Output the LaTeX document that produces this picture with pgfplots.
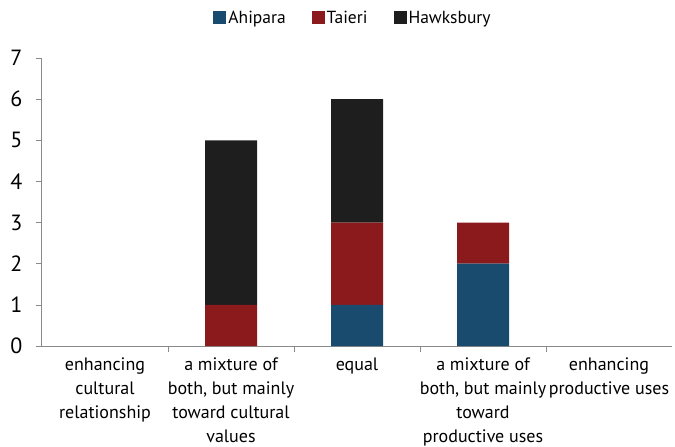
\documentclass[border=0pt]{standalone}
\usepackage{pgfplots}
\pgfplotsset{compat=1.18}
\usepackage{fontspec}
\setmainfont{PT Sans}
\definecolor{cAhi}{HTML}{184B6E}
\definecolor{cTai}{HTML}{8A1A1C}
\definecolor{cHaw}{HTML}{1E1E1E}
\definecolor{axc}{HTML}{8A8A8A}
\begin{document}
\begin{tikzpicture}
\begin{axis}[
  scale only axis,
  width=630pt, height=288pt,
  ybar stacked,
  bar width=52pt,
  xmin=-0.5, xmax=4.5,
  ymin=0, ymax=7,
  ytick={0,...,7},
  xtick={0,1,2,3,4},
  xticklabels={{enhancing\\cultural\\relationship},
    {a mixture of\\both, but mainly\\toward cultural\\values},
    {equal},
    {a mixture of\\both, but mainly\\toward\\productive uses},
    {enhancing\\productive uses}},
  xticklabel style={align=center, font=\fontsize{18}{24}\selectfont, yshift=-2pt},
  yticklabel style={font=\fontsize{22}{24}\selectfont, xshift=-10pt},
  major x tick style={draw=none},
  minor xtick={0.5,1.5,2.5,3.5},
  minor tick length=6pt,
  major tick length=6pt,
  tick align=outside,
  tick style={axc, line width=0.6pt},
  axis x line*=bottom,
  axis y line*=left,
  axis line style={axc, line width=1pt, -},
  /pgf/number format/assume math mode=true,
  legend columns=3,
  legend style={draw=none, at={(0.5,1)}, anchor=center, yshift=40pt, xshift=-4pt,
    font=\fontsize{17.5}{20}\selectfont, /tikz/every even column/.append style={column sep=24pt}},
  legend image code/.code={\fill[#1] (0pt,-6pt) rectangle (13pt,7pt);},
]
\addplot[fill=cAhi, draw=none] coordinates {(0,0) (1,0) (2,1) (3,2) (4,0)};
\addplot[fill=cTai, draw=none] coordinates {(0,0) (1,1) (2,2) (3,1) (4,0)};
\addplot[fill=cHaw, draw=none] coordinates {(0,0) (1,4) (2,3) (3,0) (4,0)};
\legend{Ahipara, Taieri, Hawksbury}
\end{axis}
\pgfresetboundingbox
\useasboundingbox (current axis.south west) ++(-42pt,-101pt) rectangle ++(675pt,447pt);
\end{tikzpicture}
\end{document}
